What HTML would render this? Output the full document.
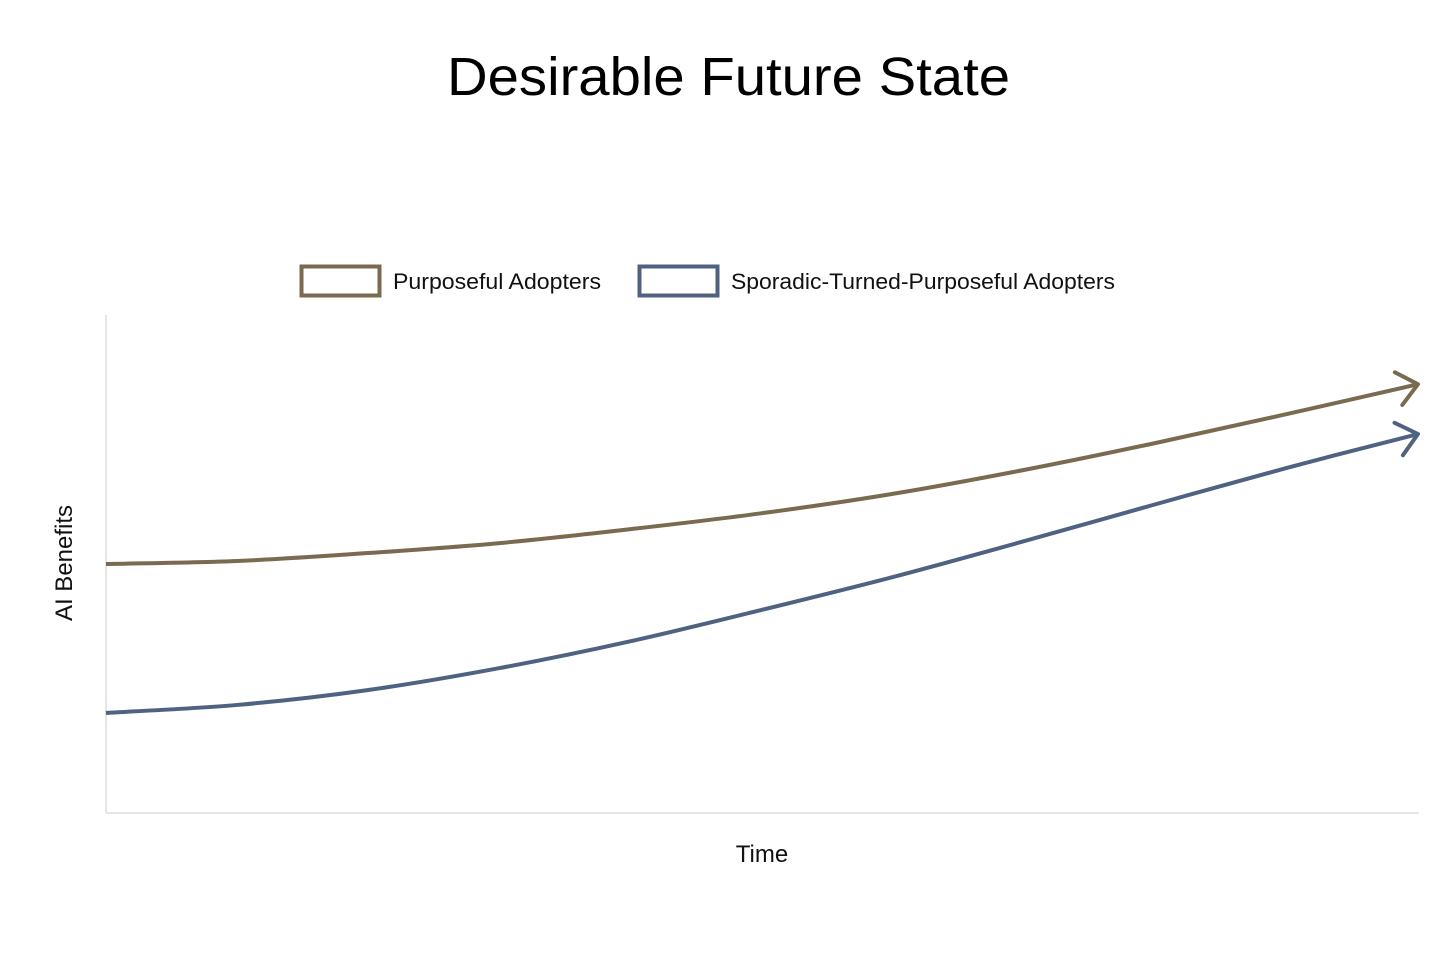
<!DOCTYPE html>
<html><head><meta charset="utf-8"><style>
body{margin:0;background:#fff;width:1456px;height:958px;overflow:hidden;font-family:"Liberation Sans",sans-serif}
</style></head><body>
<svg width="1456" height="958" viewBox="0 0 1456 958">
<text x="447" y="95" textLength="563" lengthAdjust="spacingAndGlyphs" font-size="54" fill="#000" font-family="Liberation Sans, sans-serif">Desirable Future State</text>
<g>
<rect x="301.5" y="266.5" width="78" height="29" fill="none" stroke="#7a6a50" stroke-width="4"/>
<text x="393" y="289" textLength="208" lengthAdjust="spacingAndGlyphs" font-size="22" fill="#111">Purposeful Adopters</text>
<rect x="639.5" y="266.5" width="78" height="29" fill="none" stroke="#4f6282" stroke-width="4"/>
<text x="731" y="289" textLength="384" lengthAdjust="spacingAndGlyphs" font-size="22" fill="#111">Sporadic-Turned-Purposeful Adopters</text>
</g>
<line x1="106" y1="315" x2="106" y2="813" stroke="#ddd" stroke-width="1.5"/>
<line x1="106" y1="813" x2="1419" y2="813" stroke="#ddd" stroke-width="1.5"/>
<text x="762" y="862" text-anchor="middle" font-size="24" fill="#111">Time</text>
<text transform="translate(72,563) rotate(-90)" text-anchor="middle" font-size="24" fill="#111">AI Benefits</text>
<g id="series"></g>
</svg>
<script>
const times=[0,1,2,3,4,5,6,7,8,9,10];
const purposeful=[50.0,50.6,52.2,54.2,57.0,60.2,64.1,68.9,74.3,80.1,86.1];
const sporadic=[20.1,21.7,24.7,29.1,34.5,40.8,47.4,54.6,62.0,69.3,76.1];
const xS=t=>106+t*(1418-106)/10;
const yS=v=>813-v*4.98;
function path(vals){
  const p=times.map((t,i)=>[xS(t),yS(vals[i])]);
  let d=`M${p[0][0]},${p[0][1]}`;
  for(let i=0;i<p.length-1;i++){
    const p0=p[Math.max(0,i-1)],p1=p[i],p2=p[i+1],p3=p[Math.min(p.length-1,i+2)];
    d+=` C${p1[0]+(p2[0]-p0[0])/6},${p1[1]+(p2[1]-p0[1])/6} ${p2[0]-(p3[0]-p1[0])/6},${p2[1]-(p3[1]-p1[1])/6} ${p2[0]},${p2[1]}`;
  }
  return {d,p};
}
const g=document.getElementById('series');
const NS='http://www.w3.org/2000/svg';
[[purposeful,'#7a6a50','purposeful'],[sporadic,'#4f6282','sporadic']].forEach(([vals,c,n])=>{
  const {d,p}=path(vals);
  const el=document.createElementNS(NS,'path');
  el.setAttribute('d',d);el.setAttribute('fill','none');el.setAttribute('stroke',c);el.setAttribute('stroke-width','4');
  
  
  g.appendChild(el);
  const e=p[p.length-1],b=p[p.length-2];
  const a=Math.atan2(e[1]-b[1],e[0]-b[0]);
  const L=26,s=0.7;
  const h=document.createElementNS(NS,'path');
  h.setAttribute('d',`M${e[0]-L*Math.cos(a-s)},${e[1]-L*Math.sin(a-s)} L${e[0]},${e[1]} L${e[0]-L*Math.cos(a+s)},${e[1]-L*Math.sin(a+s)}`);
  h.setAttribute('fill','none');h.setAttribute('stroke',c);h.setAttribute('stroke-width','4');h.setAttribute('stroke-linecap','round');h.setAttribute('stroke-linejoin','round');
  
  
  g.appendChild(h);
});
</script>
</body></html>
